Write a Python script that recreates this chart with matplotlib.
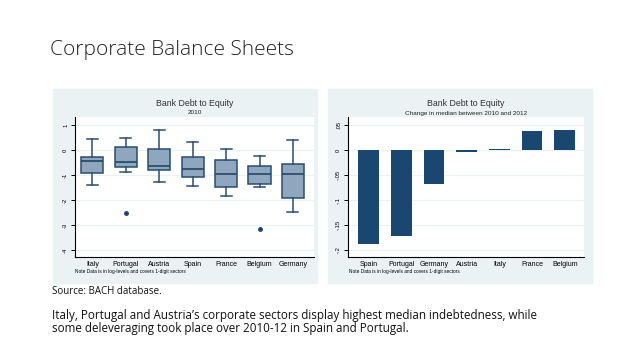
import matplotlib
matplotlib.use("Agg")
import matplotlib.pyplot as plt
from matplotlib.patches import Rectangle

# 2010 box plot stats (log-levels)
countries_box = ["Italy", "Portugal", "Austria", "Spain", "France", "Belgium", "Germany"]
whisker_hi = [0.45, 0.49, 0.81, 0.33, 0.04, -0.24, 0.41]
q3 = [-0.27, 0.12, 0.05, -0.27, -0.39, -0.63, -0.55]
median = [-0.44, -0.48, -0.65, -0.76, -0.97, -0.97, -0.97]
q1 = [-0.92, -0.67, -0.80, -1.09, -1.48, -1.35, -1.93]
whisker_lo = [-1.41, -0.88, -1.28, -1.45, -1.84, -1.49, -2.49]
outliers = [[], [-2.50], [], [], [], [-3.16], []]

# change in median 2010-2012
countries_bar = ["Spain", "Portugal", "Germany", "Austria", "Italy", "France", "Belgium"]
change = [-0.187, -0.171, -0.067, -0.003, 0.003, 0.039, 0.041]

W, H = 638, 359
PANEL = "#eaf2f3"
NAVY = "#1a476f"
BOXFILL = "#8ea6be"
BOXEDGE = "#2c4d6e"
NOTE = "Note Data is in log-levels and covers 1-digit sectors"
chart_font = "Liberation Sans"


def px(x0, y0, x1, y1):
    return [x0 / W, 1 - y1 / H, (x1 - x0) / W, (y1 - y0) / H]


def style_axis(ax):
    ax.set_facecolor("white")
    for s in ["top", "right"]:
        ax.spines[s].set_visible(False)
    ax.spines["left"].set_linewidth(0.8)
    ax.spines["bottom"].set_linewidth(0.8)
    ax.yaxis.grid(True, color=PANEL, linewidth=0.9)
    ax.set_axisbelow(True)
    ax.tick_params(axis="y", length=3, width=0.7, pad=2, labelsize=4.2, labelrotation=90)
    ax.tick_params(axis="x", length=0, pad=3, labelsize=5)
    for lab in ax.get_yticklabels():
        lab.set_fontfamily(chart_font)
        lab.set_va("center")
    for lab in ax.get_xticklabels():
        lab.set_fontfamily(chart_font)


fig = plt.figure(figsize=(W / 100, H / 100), dpi=100)

# panel backgrounds (behind the axes)
fig.patches.append(Rectangle((53 / W, 1 - 283 / H), (317 - 53) / W, (283 - 89) / H,
                             transform=fig.transFigure, color=PANEL, zorder=-10))
fig.patches.append(Rectangle((328 / W, 1 - 283 / H), (592 - 328) / W, (283 - 89) / H,
                             transform=fig.transFigure, color=PANEL, zorder=-10))

# left: box plot
ax1 = fig.add_axes(px(75, 117, 314, 257))
pos = list(range(1, len(countries_box) + 1))
stats = []
for i, c in enumerate(countries_box):
    stats.append({"med": median[i], "q1": q1[i], "q3": q3[i],
                  "whislo": whisker_lo[i], "whishi": whisker_hi[i],
                  "fliers": outliers[i], "label": c})
ax1.bxp(stats, positions=pos, widths=0.66, patch_artist=True,
        boxprops=dict(facecolor=BOXFILL, edgecolor=BOXEDGE, linewidth=1.1),
        medianprops=dict(color=BOXEDGE, linewidth=1.3),
        whiskerprops=dict(color=BOXEDGE, linewidth=1.1),
        capprops=dict(color=BOXEDGE, linewidth=1.1),
        flierprops=dict(marker="o", markersize=2.5, markerfacecolor=NAVY,
                        markeredgecolor=NAVY))
ax1.set_xlim(0.48, 7.63)
ax1.set_ylim(-4.28, 1.32)
ax1.set_yticks([1, 0, -1, -2, -3, -4])
ax1.set_yticklabels(["1", "0", "-1", "-2", "-3", "-4"])
style_axis(ax1)

# right: bar chart
ax2 = fig.add_axes(px(348, 117, 584, 257))
bx = list(range(1, len(countries_bar) + 1))
ax2.bar(bx, change, width=0.63, color=NAVY, zorder=2)
ax2.set_xticks(bx)
ax2.set_xticklabels(countries_bar)
ax2.set_xlim(0.37, 7.59)
ax2.set_ylim(-0.214, 0.066)
ax2.set_yticks([0.05, 0, -0.05, -0.1, -0.15, -0.2])
ax2.set_yticklabels([".05", "0", "-.05", "-.1", "-.15", "-.2"])
style_axis(ax2)

# chart titles and notes
for cx, sub in [((75 + 314) / 2, "2010"), ((348 + 584) / 2, "Change in median between 2010 and 2012")]:
    fig.text(cx / W, 1 - 103 / H, "Bank Debt to Equity", ha="center", va="center",
             fontsize=6.3, family=chart_font, color="#333333")
    fig.text(cx / W, 1 - 113 / H, sub, ha="center", va="center",
             fontsize=4.6, family=chart_font, color="#222222")
fig.text(75 / W, 1 - 271 / H, NOTE, ha="left", va="center", fontsize=3.4, family=chart_font)
fig.text(349 / W, 1 - 271 / H, NOTE, ha="left", va="center", fontsize=3.4, family=chart_font)

# slide text
fig.text(50 / W, 1 - 50 / H, "Corporate Balance Sheets", ha="left", va="center",
         fontsize=15, family="Open Sans", fontweight="light", color="#222222")
fig.text(52 / W, 1 - 292 / H, "Source: BACH database.", ha="left", va="center",
         fontsize=7, family="Open Sans", color="#111111")
fig.text(52 / W, 1 - 322 / H,
         "Italy, Portugal and Austria\u2019s corporate sectors display highest median indebtedness, while\n"
         "some deleveraging took place over 2010-12 in Spain and Portugal.",
         ha="left", va="center", fontsize=8.4, family="Open Sans", color="#111111",
         linespacing=0.95)

fig.savefig("out.png", dpi=100)
